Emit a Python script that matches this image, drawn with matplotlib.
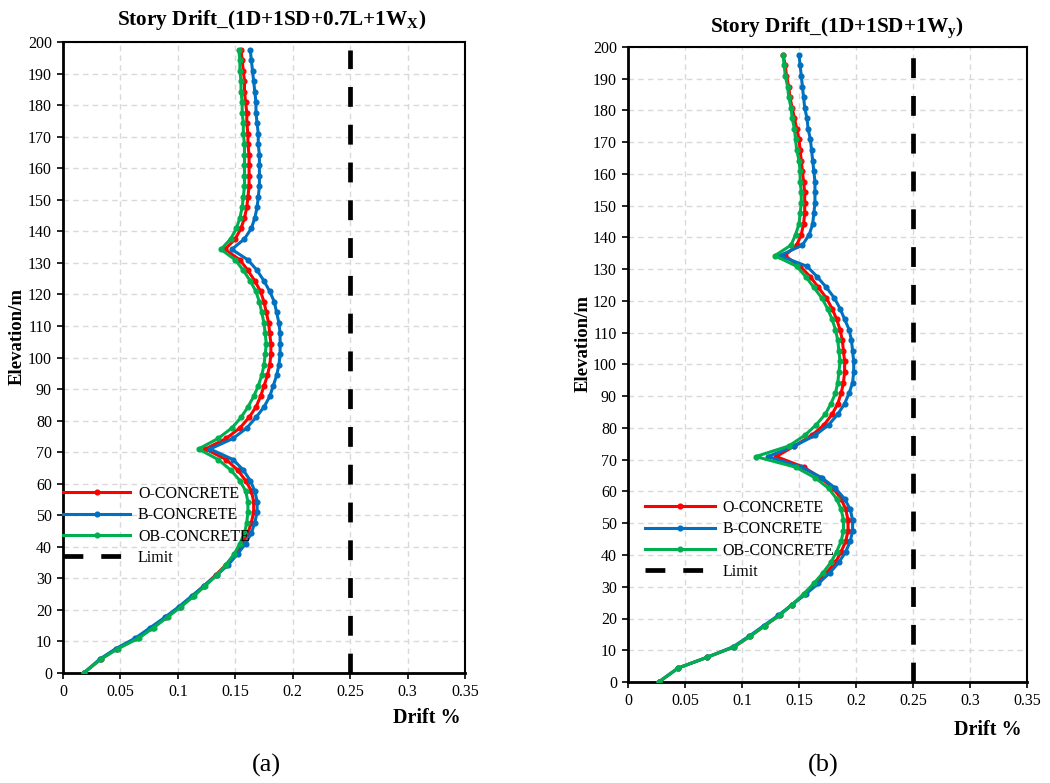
import numpy as np
import matplotlib
matplotlib.use('Agg')
import matplotlib.pyplot as plt

plt.rcParams['font.family'] = ['Liberation Serif', 'DejaVu Serif']
plt.rcParams['mathtext.fontset'] = 'custom'
plt.rcParams['mathtext.rm'] = 'Liberation Serif'
plt.rcParams['mathtext.bf'] = 'Liberation Serif:bold'

# storey elevations (m)
elevation = [0, 4.40, 7.73, 11.06, 14.39, 17.72, 21.05, 24.38, 27.71, 31.04,
             34.37, 37.70, 41.03, 44.36, 47.69, 51.02, 54.35, 57.68, 61.01, 64.34,
             67.67, 71.00, 74.33, 77.66, 80.99, 84.32, 87.65, 90.98, 94.31, 97.64,
             100.97, 104.30, 107.63, 110.96, 114.29, 117.62, 120.95, 124.28, 127.61, 130.94,
             134.27, 137.60, 140.93, 144.26, 147.59, 150.92, 154.25, 157.58, 160.91, 164.24,
             167.57, 170.90, 174.23, 177.56, 180.89, 184.22, 187.55, 190.88, 194.21, 197.54]

# (a) 1D+1SD+0.7L+1Wx
o_concrete_a = [0.018, 0.033, 0.047, 0.065, 0.078, 0.090, 0.102, 0.113, 0.123, 0.133,
                0.142, 0.150, 0.156, 0.161, 0.164, 0.166, 0.166, 0.164, 0.159, 0.152,
                0.142, 0.124, 0.142, 0.154, 0.162, 0.168, 0.172, 0.175, 0.178, 0.180,
                0.181, 0.181, 0.180, 0.179, 0.177, 0.175, 0.172, 0.167, 0.161, 0.154,
                0.141, 0.150, 0.155, 0.158, 0.160, 0.161, 0.162, 0.162, 0.162, 0.162,
                0.161, 0.161, 0.160, 0.160, 0.159, 0.158, 0.158, 0.157, 0.156, 0.155]
b_concrete_a = [0.018, 0.032, 0.046, 0.063, 0.076, 0.089, 0.101, 0.112, 0.123, 0.134,
                0.144, 0.152, 0.159, 0.164, 0.167, 0.169, 0.169, 0.167, 0.163, 0.157,
                0.148, 0.128, 0.148, 0.160, 0.168, 0.175, 0.180, 0.183, 0.186, 0.188,
                0.189, 0.189, 0.189, 0.188, 0.186, 0.184, 0.180, 0.175, 0.169, 0.161,
                0.147, 0.158, 0.164, 0.167, 0.169, 0.170, 0.171, 0.171, 0.171, 0.171,
                0.170, 0.170, 0.169, 0.168, 0.168, 0.167, 0.166, 0.165, 0.164, 0.163]
ob_concrete_a = [0.018, 0.033, 0.048, 0.066, 0.079, 0.091, 0.103, 0.114, 0.124, 0.134,
                 0.142, 0.149, 0.154, 0.158, 0.160, 0.161, 0.161, 0.159, 0.154, 0.146,
                 0.135, 0.118, 0.135, 0.147, 0.155, 0.161, 0.166, 0.170, 0.173, 0.175,
                 0.176, 0.177, 0.176, 0.175, 0.173, 0.171, 0.168, 0.163, 0.157, 0.150,
                 0.1375, 0.146, 0.151, 0.154, 0.156, 0.157, 0.158, 0.158, 0.158, 0.158,
                 0.158, 0.157, 0.157, 0.156, 0.156, 0.155, 0.155, 0.154, 0.154, 0.153]

# (b) 1D+1SD+1Wy
o_concrete_b = [0.027, 0.044, 0.069, 0.093, 0.107, 0.120, 0.133, 0.144, 0.155, 0.165,
                0.174, 0.182, 0.187, 0.191, 0.193, 0.193, 0.191, 0.187, 0.180, 0.169,
                0.154, 0.130, 0.146, 0.161, 0.172, 0.179, 0.184, 0.187, 0.189, 0.190,
                0.190, 0.189, 0.188, 0.186, 0.183, 0.179, 0.174, 0.167, 0.160, 0.151,
                0.1375, 0.148, 0.152, 0.154, 0.155, 0.155, 0.155, 0.154, 0.153, 0.152,
                0.151, 0.150, 0.148, 0.146, 0.144, 0.142, 0.141, 0.139, 0.138, 0.136]
b_concrete_b = [0.027, 0.044, 0.069, 0.092, 0.106, 0.119, 0.132, 0.144, 0.156, 0.167,
                0.177, 0.185, 0.191, 0.195, 0.197, 0.197, 0.195, 0.190, 0.182, 0.170,
                0.152, 0.1226, 0.146, 0.164, 0.176, 0.184, 0.190, 0.194, 0.197, 0.198,
                0.198, 0.197, 0.196, 0.194, 0.190, 0.186, 0.181, 0.174, 0.166, 0.157,
                0.133, 0.153, 0.159, 0.162, 0.163, 0.164, 0.164, 0.164, 0.163, 0.162,
                0.161, 0.160, 0.158, 0.157, 0.155, 0.154, 0.153, 0.152, 0.151, 0.150]
ob_concrete_b = [0.027, 0.044, 0.069, 0.093, 0.107, 0.120, 0.133, 0.144, 0.154, 0.163,
                 0.171, 0.178, 0.183, 0.187, 0.189, 0.189, 0.187, 0.183, 0.176, 0.164,
                 0.147, 0.112, 0.141, 0.155, 0.165, 0.173, 0.178, 0.182, 0.184, 0.185,
                 0.186, 0.185, 0.184, 0.182, 0.179, 0.175, 0.170, 0.163, 0.156, 0.148,
                 0.1288, 0.143, 0.147, 0.150, 0.151, 0.152, 0.152, 0.151, 0.151, 0.150,
                 0.148, 0.147, 0.146, 0.144, 0.143, 0.141, 0.140, 0.138, 0.137, 0.136]

limit_drift = [0.25, 0.25]
limit_elev = [0, 197.54]

series_names = ['O-CONCRETE', 'B-CONCRETE', 'OB-CONCRETE']
colors = ['#FF0000', '#0070C0', '#00B050']

titles = [r'Story Drift_(1D+1SD+0.7L+1W$_{\mathbf{X}}$)',
          r'Story Drift_(1D+1SD+1W$_{\mathbf{y}}$)']
panel_labels = ['(a)', '(b)']

fig = plt.figure(figsize=(10.5, 7.83), dpi=100)
W, H = 1050.0, 783.0


def px_axes(x0, y0, x1, y1):
    return fig.add_axes([x0 / W, 1 - y1 / H, (x1 - x0) / W, (y1 - y0) / H])


ax_a = px_axes(63, 42, 465, 673)
ax_b = px_axes(628, 47, 1027, 682)

panels = [
    (ax_a, [o_concrete_a, b_concrete_a, ob_concrete_a]),
    (ax_b, [o_concrete_b, b_concrete_b, ob_concrete_b]),
]

for ax, data in panels:
    for vals, name, c in zip(data, series_names, colors):
        ax.plot(vals, elevation, color=c, lw=2.2, marker='o', ms=3.4,
                label=name, zorder=3)
    ax.plot(limit_drift, limit_elev, color='black', lw=3.4, ls=(0, (4.2, 3.8)),
            label='Limit', zorder=3)
    ax.set_xlim(0, 0.35)
    ax.set_ylim(0, 200)
    ax.set_xticks(np.arange(0, 0.351, 0.05))
    ax.set_xticklabels(['0', '0.05', '0.1', '0.15', '0.2', '0.25', '0.3', '0.35'])
    ax.set_yticks(np.arange(0, 201, 10))
    ax.grid(True, color='#d9d9d9', lw=1.0, ls=(0, (4, 3)))
    ax.set_axisbelow(True)
    ax.tick_params(labelsize=11.5, length=4, width=1.2, direction='out', pad=4)
    for side in ['left', 'bottom']:
        ax.spines[side].set_linewidth(2.0)
    for side in ['top', 'right']:
        ax.spines[side].set_linewidth(1.5)

# legends
ax_a.legend(loc='upper left', bbox_to_anchor=(63 / W, 1 - 486 / H),
            bbox_transform=fig.transFigure, frameon=False, fontsize=11.5,
            borderpad=0, handlelength=4.2, handletextpad=0.5, labelspacing=0.33,
            borderaxespad=0)
ax_b.legend(loc='upper left', bbox_to_anchor=(645 / W, 1 - 500 / H),
            bbox_transform=fig.transFigure, frameon=False, fontsize=11.5,
            borderpad=0, handlelength=4.4, handletextpad=0.45, labelspacing=0.33,
            borderaxespad=0)

# titles and axis titles
fig.text(272 / W, 1 - 20 / H, titles[0], ha='center', va='center',
         fontsize=15.3, fontweight='bold')
fig.text(837 / W, 1 - 28 / H, titles[1], ha='center', va='center',
         fontsize=15.3, fontweight='bold')
fig.text(17 / W, 1 - 336 / H, 'Elevation/m', rotation=90, ha='center',
         va='center', fontsize=13.5, fontweight='bold')
fig.text(583 / W, 1 - 343 / H, 'Elevation/m', rotation=90, ha='center',
         va='center', fontsize=13.5, fontweight='bold')
fig.text(427 / W, 1 - 718 / H, 'Drift %', ha='center', va='center',
         fontsize=14.5, fontweight='bold')
fig.text(988 / W, 1 - 730 / H, 'Drift %', ha='center', va='center',
         fontsize=14.5, fontweight='bold')
fig.text(266 / W, 1 - 765 / H, panel_labels[0], ha='center', va='center',
         fontsize=19)
fig.text(823 / W, 1 - 765 / H, panel_labels[1], ha='center', va='center',
         fontsize=19)

fig.savefig('out.png', dpi=100)
